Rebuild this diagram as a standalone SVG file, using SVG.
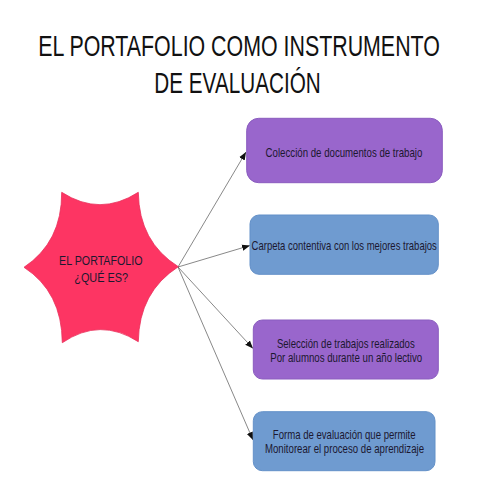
<svg xmlns="http://www.w3.org/2000/svg" width="480" height="480" viewBox="0 0 480 480">
<defs>
<marker id="ah" viewBox="0 0 10 10" refX="10" refY="5" markerWidth="8" markerHeight="8" markerUnits="userSpaceOnUse" orient="auto">
<path d="M0,1 L10,5 L0,9 Z" fill="#111"/>
</marker>
<style>
.t{font-family:"Liberation Sans",Arial,sans-serif;fill:#1c1830;text-anchor:middle}
.title{font-size:29px;fill:#111}
.lbl{font-size:12.5px}
.star{font-size:13.5px}
.purple{fill:#9966cc;stroke:#8a5cbf;stroke-width:1}
.blue{fill:#6f9bd0;stroke:#6390c8;stroke-width:1}
.conn{stroke:#555;stroke-width:0.7;fill:none;marker-end:url(#ah)}
</style>
</defs>
<rect width="480" height="480" fill="#fff"/>
<g id="title">
<text class="t title" transform="translate(239,56) scale(0.737,1)">EL PORTAFOLIO COMO INSTRUMENTO</text>
<text class="t title" transform="translate(237.5,92.5) scale(0.714,1)">DE EVALUACIÓN</text>
</g>
<g id="connectors">
<line class="conn" x1="178" y1="267" x2="246" y2="152"/>
<line class="conn" x1="178" y1="267" x2="250" y2="245.5"/>
<line class="conn" x1="178" y1="267" x2="253" y2="348.5"/>
<line class="conn" x1="178" y1="267" x2="253" y2="440"/>
</g>
<g id="star">
<path d="M61.7,192.3 Q100,217 138.3,192.3 Q139,242 178.3,266.7 Q139,292 138.3,341.7 Q100,317 62.3,342.7 Q62,292 24,267.3 Q62,242 61.7,192.3 Z" fill="#fd3563" stroke="#e8305a" stroke-width="0.8"/>
<text class="t star" transform="translate(100.8,264.8) scale(0.792,1)">EL PORTAFOLIO</text>
<text class="t star" transform="translate(101.2,281.5) scale(0.809,1)">¿QUÉ ES?</text>
</g>
<g id="box1">
<rect class="purple" x="246.7" y="118.3" width="195.6" height="64.4" rx="12"/>
<text class="t lbl" transform="translate(344,156.5) scale(0.774,1)">Colección de documentos de trabajo</text>
</g>
<g id="box2">
<rect class="blue" x="250" y="215" width="188.3" height="59.3" rx="9"/>
<text class="t lbl" transform="translate(344.2,250) scale(0.76,1)">Carpeta contentiva con los mejores trabajos</text>
</g>
<g id="box3">
<rect class="purple" x="253.3" y="320" width="185" height="59" rx="9"/>
<text class="t lbl" transform="translate(345.8,347.6) scale(0.767,1)">Selección de trabajos realizados</text>
<text class="t lbl" transform="translate(346.2,361.6) scale(0.773,1)">Por alumnos durante un año lectivo</text>
</g>
<g id="box4">
<rect class="blue" x="253.3" y="411.7" width="181.7" height="59" rx="9"/>
<text class="t lbl" transform="translate(344.2,439.3) scale(0.768,1)">Forma de evaluación que permite</text>
<text class="t lbl" transform="translate(344.5,453.3) scale(0.771,1)">Monitorear el proceso de aprendizaje</text>
</g>
</svg>
